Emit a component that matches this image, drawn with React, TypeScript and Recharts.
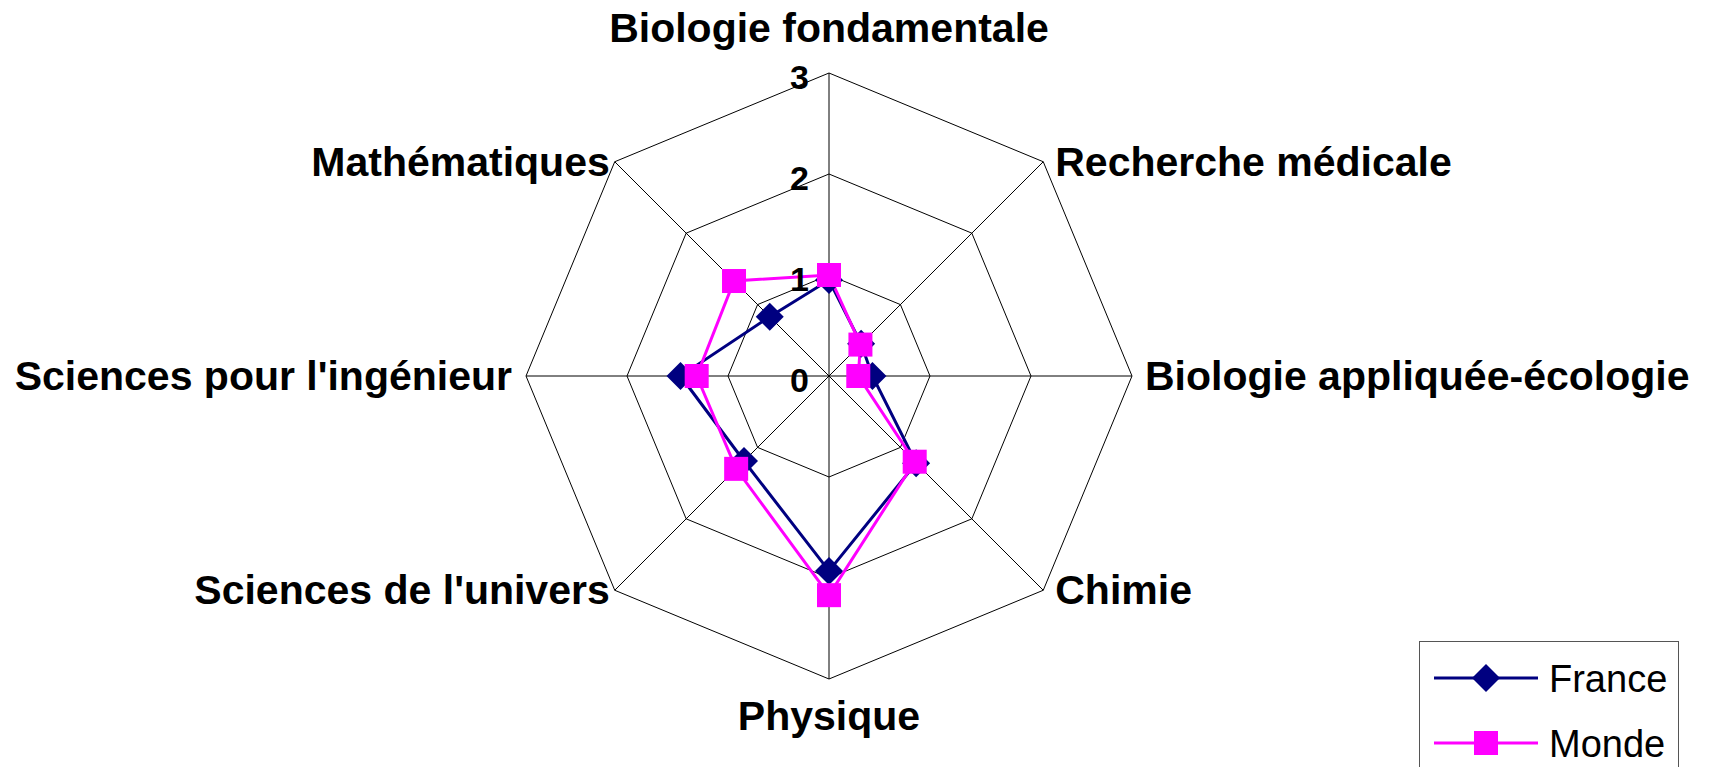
import { PolarAngleAxis, PolarGrid, PolarRadiusAxis, Radar, RadarChart, Legend } from "recharts";

const categories = [
  "Biologie fondamentale",
  "Recherche médicale",
  "Biologie appliquée-écologie",
  "Chimie",
  "Physique",
  "Sciences de l'univers",
  "Sciences pour l'ingénieur",
  "Mathématiques",
];
const france = [0.95, 0.45, 0.43, 1.22, 1.93, 1.19, 1.47, 0.83];
const monde = [1.0, 0.44, 0.29, 1.2, 2.17, 1.3, 1.31, 1.33];

const data = categories.map((name, i) => ({ name, France: france[i], Monde: monde[i] }));

const CX = 829;
const CY = 376;
const R = 303;
const FONT = "'Liberation Sans', Arial, sans-serif";

const Diamond = (p: any) => (
  <polygon
    key={`d-${p.index}`}
    points={`${p.cx},${p.cy - 14} ${p.cx + 14},${p.cy} ${p.cx},${p.cy + 14} ${p.cx - 14},${p.cy}`}
    fill="#000080"
  />
);

const Square = (p: any) => (
  <rect key={`s-${p.index}`} x={p.cx - 12} y={p.cy - 12} width={24} height={24} fill="#FF00FF" />
);

const AngleTick = (props: any) => {
  const ang = props.payload.coordinate;
  const rad = (ang * Math.PI) / 180;
  const vx = CX + R * Math.cos(rad);
  const vy = CY - R * Math.sin(rad);
  const c = Math.cos(rad);
  const s = Math.sin(rad);
  let x = vx;
  let y = vy + 14;
  let anchor = "middle";
  if (Math.abs(c) < 0.01) {
    y = s > 0 ? vy - 31 : vy + 51;
  } else if (c > 0) {
    anchor = "start";
    x = vx + (Math.abs(s) < 0.01 ? 13 : 12);
  } else {
    anchor = "end";
    x = vx - (Math.abs(s) < 0.01 ? 14 : 5);
  }
  return (
    <text x={x} y={y} textAnchor={anchor} fontFamily={FONT} fontWeight="bold" fontSize={41} fill="#000">
      {props.payload.value}
    </text>
  );
};

const RadiusTick = (props: any) => (
  <text x={props.x - 20} y={props.y + 16} textAnchor="end" fontFamily={FONT} fontWeight="bold" fontSize={34} fill="#000">
    {props.payload.value}
  </text>
);

const LegendBox = () => (
  <div
    style={{
      width: 258,
      height: 140,
      border: "1px solid #555",
      background: "#fff",
      position: "relative",
      fontFamily: FONT,
      fontSize: 38,
    }}
  >
    <svg width={258} height={140} style={{ position: "absolute", left: 0, top: 0 }}>
      <line x1={14} y1={36} x2={118} y2={36} stroke="#000080" strokeWidth={3} />
      <polygon points="66,22 80,36 66,50 52,36" fill="#000080" />
      <line x1={14} y1={101} x2={118} y2={101} stroke="#FF00FF" strokeWidth={3} />
      <rect x={54} y={89} width={24} height={24} fill="#FF00FF" />
      <text x={129} y={50} fontFamily={FONT} fontSize={38} fill="#000">France</text>
      <text x={129} y={115} fontFamily={FONT} fontSize={38} fill="#000">Monde</text>
    </svg>
  </div>
);

export default function App() {
  return (
    <div style={{ position: "absolute", left: 0, top: 0, width: 1709, height: 767, overflow: "hidden", background: "#fff" }}>
      <RadarChart
        width={1709}
        height={767}
        data={data}
        cx={CX}
        cy={CY}
        outerRadius={R}
        margin={{ top: 0, right: 0, bottom: 0, left: 0 }}
      >
        <PolarGrid gridType="polygon" stroke="#000" strokeWidth={1} strokeOpacity={1} />
        <PolarAngleAxis dataKey="name" tick={AngleTick} tickLine={false} axisLine={false} />
        <PolarRadiusAxis
          angle={90}
          domain={[0, 3]}
          tickCount={4}
          axisLine={false}
          tick={RadiusTick}
        />
        <Radar
          name="France"
          dataKey="France"
          stroke="#000080"
          strokeWidth={3}
          fill="none"
          fillOpacity={0}
          dot={Diamond}
          isAnimationActive={false}
        />
        <Radar
          name="Monde"
          dataKey="Monde"
          stroke="#FF00FF"
          strokeWidth={3}
          fill="none"
          fillOpacity={0}
          dot={Square}
          isAnimationActive={false}
        />
        <Legend content={LegendBox} wrapperStyle={{ position: "absolute", left: 1419, top: 641, width: 260, bottom: "auto" }} />
      </RadarChart>
    </div>
  );
}
